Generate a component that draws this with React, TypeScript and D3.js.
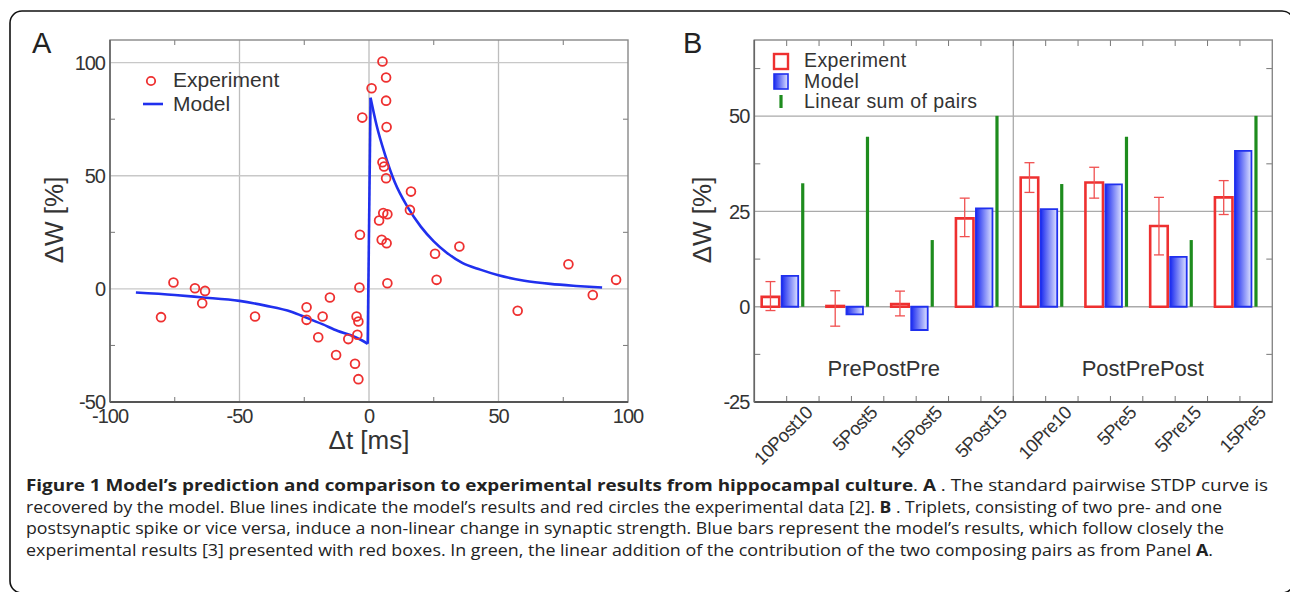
import React from 'react';
import * as d3 from 'd3';

// ---------- Panel A data ----------
const expPoints: [number, number][] = [
  [-80.3, -12.5], [-75.5, 2.8], [-67.2, 0.3], [-63.3, -0.9], [-64.4, -6.3],
  [-44, -12.2], [-24.1, -8.1], [-24.1, -13.7], [-17.9, -12.2], [-15.1, -3.8],
  [-19.6, -21.4], [-12.7, -29.2], [-8, -22.2], [-5.4, -33.1], [-4.1, -39.9],
  [-4.5, -20.3], [-4.1, -14.4], [-4.8, -12.2], [-3.7, 0.6], [-3.5, 23.9],
  [-2.6, 75.7], [1, 88.7], [5.2, 100.5], [6.6, 93.4], [6.6, 83.2],
  [6.8, 71.5], [5.2, 56], [5.8, 54.1], [6.6, 48.9], [16.2, 43],
  [15.8, 34.9], [5.5, 33.5], [7.1, 33], [3.9, 30.2], [4.9, 21.7],
  [6.8, 20.2], [7.1, 2.5], [25.5, 15.5], [34.9, 18.7], [26.1, 4],
  [57.4, -9.7], [77, 10.9], [86.4, -2.7], [95.4, 4],
];
const modelNeg: [number, number][] = [
  [-90, -1.6], [-75, -2.7], [-65, -3.7], [-50, -5.3], [-40, -7.4], [-30, -10.1],
  [-24, -12.8], [-18, -15.6], [-12, -18.6], [-7, -20.5], [-3, -22.6], [-0.5, -24.3],
];
const modelJump: [number, number][] = [[-0.5, -24.3], [0.6, 84.5]];
const modelPos: [number, number][] = [
  [0.6, 84.5], [3, 72], [6, 60], [10, 47], [15, 36], [20, 27.5], [25, 21],
  [30, 16], [36, 11.5], [43, 8.5], [50, 6], [60, 3.6], [70, 2.2], [80, 1.3], [90, 0.6],
];
const aXTicks = [-100, -50, 0, 50, 100];
const aYTicks = [-50, 0, 50, 100];
const aXMinor = [-75, -25, 25, 75];
const aYMinor = [-25, 25, 75];

// ---------- Panel B data ----------
const categories = ['10Post10', '5Post5', '15Post5', '5Post15', '10Pre10', '5Pre5', '5Pre15', '15Pre5'];
const groupNames = ['PrePostPre', 'PostPrePost'];
const expMean = [2.6, 0.2, 0.7, 23.2, 33.9, 32.6, 21.2, 28.7];
const expLow = [-1, -5.1, -2.4, 18.4, 30, 28.5, 13.6, 24.2];
const expHigh = [6.6, 4.2, 4.1, 28.5, 37.8, 36.6, 28.7, 33.1];
const modelVal = [8.1, -2, -6.1, 25.8, 25.6, 32.1, 13.1, 40.9];
const linearSum = [32.4, 44.6, 17.5, 50.1, 32.2, 44.6, 17.5, 50.1];
const bYTicks = [-25, 0, 25, 50];
const bYMinor = [-12.5, 12.5, 37.5, 62.5];

const captionLines = [
  [['b', 'Figure 1 Model\u2019s prediction and comparison to experimental results from hippocampal culture'], ['n', '. '], ['b', 'A'], ['n', ' . The standard pairwise STDP curve is']],
  [['n', 'recovered by the model. Blue lines indicate the model\u2019s results and red circles the experimental data [2]. '], ['b', 'B'], ['n', ' . Triplets, consisting of two pre- and one']],
  [['n', 'postsynaptic spike or vice versa, induce a non-linear change in synaptic strength. Blue bars represent the model\u2019s results, which follow closely the']],
  [['n', 'experimental results [3] presented with red boxes. In green, the linear addition of the contribution of the two composing pairs as from Panel '], ['b', 'A'], ['n', '.']],
];
const captionEnds = [1268, 1222, 1224, 1213];

const axisFont = '"Liberation Sans", Arial, sans-serif';
const textCol = '#333';
const red = '#ee3030';
const blue = '#2030ee';
const green = '#1e8c1e';

const PanelA = () => {
  const x = d3.scaleLinear().domain([-100, 100]).range([110, 628]);
  const y = d3.scaleLinear().domain([-50, 110]).range([402, 40]);
  const [x0, x1] = x.range();
  const [y0, y1] = y.range();
  const line = d3.line<[number, number]>().x(d => x(d[0])).y(d => y(d[1])).curve(d3.curveMonotoneX);
  const straight = d3.line<[number, number]>().x(d => x(d[0])).y(d => y(d[1]));
  const tk = 5;

  return (
    <g>
      <text x={32} y={53} fontSize={29} fontFamily={axisFont} fill="#222">A</text>
      {/* grid */}
      {aXTicks.slice(1, -1).map(t => (
        <line key={'gx' + t} x1={x(t)} x2={x(t)} y1={y1} y2={y0} stroke="#bdbdbd" strokeWidth={1.3} />
      ))}
      {aYTicks.slice(1).map(t => (
        <line key={'gy' + t} x1={x0} x2={x1} y1={y(t)} y2={y(t)} stroke="#c8c8c8" strokeWidth={1.3} />
      ))}
      {/* minor ticks */}
      {aXMinor.map(t => (
        <g key={'mx' + t}>
          <line x1={x(t)} x2={x(t)} y1={y0} y2={y0 - tk} stroke="#777" strokeWidth={1} />
          <line x1={x(t)} x2={x(t)} y1={y1} y2={y1 + tk} stroke="#777" strokeWidth={1} />
        </g>
      ))}
      {aYMinor.map(t => (
        <g key={'my' + t}>
          <line x1={x0} x2={x0 + tk} y1={y(t)} y2={y(t)} stroke="#777" strokeWidth={1} />
          <line x1={x1} x2={x1 - tk} y1={y(t)} y2={y(t)} stroke="#777" strokeWidth={1} />
        </g>
      ))}
      {/* frame */}
      <rect x={x0} y={y1} width={x1 - x0} height={y0 - y1} fill="none" stroke="#888" strokeWidth={1.4} />
      <line x1={x0} x2={x1} y1={y0} y2={y0} stroke="#555" strokeWidth={1.8} />
      <line x1={x0} x2={x0} y1={y1} y2={y0} stroke="#666" strokeWidth={1.6} />
      {/* tick labels */}
      {aYTicks.map(t => (
        <text key={'yl' + t} x={x0 - 5} y={y(t)} dy="0.36em" textAnchor="end" fontSize={20} letterSpacing={-1}
          fontFamily={axisFont} fill={textCol}>{t}</text>
      ))}
      {aXTicks.map(t => (
        <text key={'xl' + t} x={x(t)} y={423} textAnchor="middle" fontSize={20} letterSpacing={-1}
          fontFamily={axisFont} fill={textCol}>{t}</text>
      ))}
      <text x={x(0)} y={449} textAnchor="middle" fontSize={26} fontFamily={axisFont} fill={textCol}>Δt [ms]</text>
      <text transform={`translate(63,220) rotate(-90)`} textAnchor="middle" fontSize={26} fontFamily={axisFont} fill={textCol}>ΔW [%]</text>
      {/* model */}
      <path d={line(modelNeg) || ''} fill="none" stroke={blue} strokeWidth={2.6} />
      <path d={straight(modelJump) || ''} fill="none" stroke={blue} strokeWidth={2.6} />
      <path d={line(modelPos) || ''} fill="none" stroke={blue} strokeWidth={2.6} />
      {/* experiment */}
      {expPoints.map((d, i) => (
        <circle key={'p' + i} cx={x(d[0])} cy={y(d[1])} r={4.4} fill="none" stroke={red} strokeWidth={1.8} />
      ))}
      {/* legend */}
      <circle cx={151} cy={81} r={4.2} fill="none" stroke={red} strokeWidth={1.8} />
      <text x={173} y={87} fontSize={21} fontFamily={axisFont} fill={textCol}>Experiment</text>
      <line x1={143} x2={163} y1={104} y2={104} stroke={blue} strokeWidth={2.6} />
      <text x={173} y={111} fontSize={21} fontFamily={axisFont} fill={textCol}>Model</text>
    </g>
  );
};

const PanelB = () => {
  const x = d3.scaleBand().domain(categories).range([754.3, 1272.3]);
  const y = d3.scaleLinear().domain([-25, 70]).range([402, 40]);
  const bw = x.bandwidth();
  const [x0, x1] = x.range();
  const [y0, y1] = y.range();
  const tk = 6;
  const halfTicks = d3.range(1, categories.length * 2).map(k => x0 + (k * bw) / 2);
  const boxPath = (a: number, b: number, v0: number, v1: number) =>
    `M${a},${y(v0)}L${b},${y(v0)}L${b},${y(v1)}L${a},${y(v1)}Z`;

  return (
    <g>
      <defs>
        <linearGradient id="blueGrad" x1="0" x2="1" y1="0" y2="0">
          <stop offset="0%" stopColor="#1a2af0" />
          <stop offset="100%" stopColor="#dfe3ff" />
        </linearGradient>
      </defs>
      <text x={683} y={53} fontSize={29} fontFamily={axisFont} fill="#222">B</text>
      {/* grid */}
      {[0, 25, 50].map(t => (
        <line key={'g' + t} x1={x0} x2={x1} y1={y(t)} y2={y(t)} stroke="#aaa" strokeWidth={1.3} />
      ))}
      <line x1={x0 + 4 * bw} x2={x0 + 4 * bw} y1={y1} y2={y0} stroke="#aaa" strokeWidth={1.3} />
      {halfTicks.map((p, i) => (
        <g key={'t' + i}>
          <line x1={p} x2={p} y1={y0} y2={y0 - tk} stroke="#777" strokeWidth={1} />
          <line x1={p} x2={p} y1={y1} y2={y1 + tk} stroke="#777" strokeWidth={1} />
        </g>
      ))}
      {bYMinor.map(t => (
        <g key={'m' + t}>
          <line x1={x0} x2={x0 + tk} y1={y(t)} y2={y(t)} stroke="#777" strokeWidth={1} />
          <line x1={x1} x2={x1 - tk} y1={y(t)} y2={y(t)} stroke="#777" strokeWidth={1} />
        </g>
      ))}
      {/* group labels */}
      {groupNames.map((g, i) => (
        <text key={g} x={x0 + (i * 4 + 2) * bw} y={376} textAnchor="middle" fontSize={22}
          fontFamily={axisFont} fill={textCol}>{g}</text>
      ))}
      {/* bars */}
      {categories.map((c, i) => {
        const b0 = x(c) as number;
        const ra = b0 + bw * 0.114, rb = b0 + bw * 0.385;
        const ma = b0 + bw * 0.423, mb = b0 + bw * 0.678;
        const gx = b0 + bw * 0.748;
        const ex = (ra + rb) / 2;
        return (
          <g key={c}>
            <path d={boxPath(ra, rb, 0, expMean[i])} fill="none" stroke={red} strokeWidth={2.6} />
            <line x1={ex} x2={ex} y1={y(expLow[i])} y2={y(expHigh[i])} stroke="#f05050" strokeWidth={1.3} />
            <line x1={ex - 5} x2={ex + 5} y1={y(expLow[i])} y2={y(expLow[i])} stroke="#f05050" strokeWidth={1.3} />
            <line x1={ex - 5} x2={ex + 5} y1={y(expHigh[i])} y2={y(expHigh[i])} stroke="#f05050" strokeWidth={1.3} />
            <path d={boxPath(ma, mb, 0, modelVal[i])} fill="url(#blueGrad)" stroke={blue} strokeWidth={1.8} />
            <line x1={gx} x2={gx} y1={y(0)} y2={y(linearSum[i])} stroke={green} strokeWidth={3.2} />
          </g>
        );
      })}
      {/* frame */}
      <rect x={x0} y={y1} width={x1 - x0} height={y0 - y1} fill="none" stroke="#888" strokeWidth={1.4} />
      <line x1={x0} x2={x1} y1={y0} y2={y0} stroke="#555" strokeWidth={1.8} />
      <line x1={x0} x2={x0} y1={y1} y2={y0} stroke="#666" strokeWidth={1.6} />
      {/* tick labels */}
      {bYTicks.map(t => (
        <text key={'yl' + t} x={x0 - 5} y={y(t)} dy="0.36em" textAnchor="end" fontSize={20} letterSpacing={-1}
          fontFamily={axisFont} fill={textCol}>{t}</text>
      ))}
      {categories.map(c => {
        const cx = (x(c) as number) + bw / 2 + 27;
        return (
          <text key={'xl' + c} transform={`translate(${cx},414) rotate(-45)`} textAnchor="end" fontSize={18.5}
            letterSpacing={-0.6} fontFamily={axisFont} fill={textCol}>{c}</text>
        );
      })}
      <text transform={`translate(711,220) rotate(-90)`} textAnchor="middle" fontSize={26} fontFamily={axisFont} fill={textCol}>ΔW [%]</text>
      {/* legend */}
      <rect x={774} y={54} width={14} height={15} fill="none" stroke={red} strokeWidth={2.4} />
      <text x={804} y={67} fontSize={19.5} letterSpacing={0.4} fontFamily={axisFont} fill={textCol}>Experiment</text>
      <rect x={774} y={74} width={14} height={15} fill="url(#blueGrad)" stroke={blue} strokeWidth={1.6} />
      <text x={804} y={87.5} fontSize={19.5} letterSpacing={0.4} fontFamily={axisFont} fill={textCol}>Model</text>
      <line x1={781} x2={781} y1={95} y2={108} stroke={green} strokeWidth={3.2} />
      <text x={804} y={107.5} fontSize={19.5} letterSpacing={0.4} fontFamily={axisFont} fill={textCol}>Linear sum of pairs</text>
    </g>
  );
};

const App = () => {
  return (
    <svg width={1290} height={592} style={{ position: 'absolute', left: 0, top: 0, background: '#fff' }}>
      <rect x={10} y={11} width={1284} height={582} rx={12} fill="#fff" stroke="#111" strokeWidth={1.6} />
      <PanelA />
      <PanelB />
      {captionLines.map((segs, i) => (
        <text key={i} x={26} y={491 + i * 21.7} fontSize={16.5} fontFamily='"Open Sans", "Noto Sans", sans-serif'
          fill="#222" textLength={captionEnds[i] - 26} lengthAdjust="spacingAndGlyphs">
          {segs.map((s, j) => (
            <tspan key={j} fontWeight={s[0] === 'b' ? 700 : 400}>{s[1]}</tspan>
          ))}
        </text>
      ))}
    </svg>
  );
};

export default App;
